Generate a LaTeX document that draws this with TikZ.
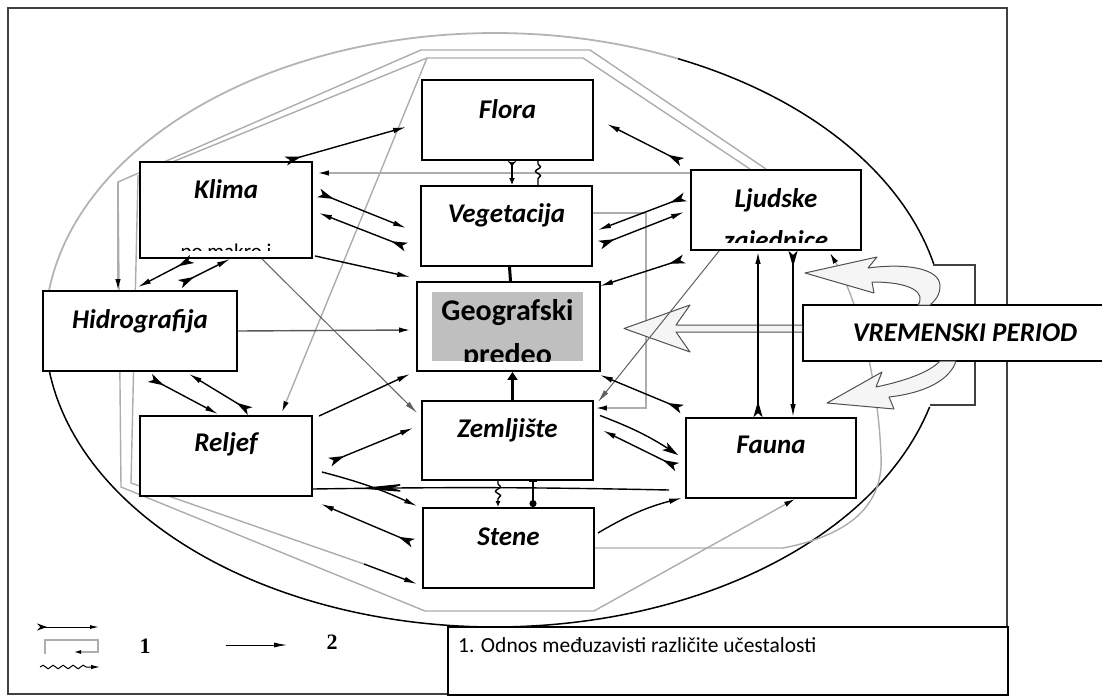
\documentclass[tikz,border=0pt]{standalone}
\usepackage{fontspec}
\setmainfont{Carlito}
\newfontfamily\lgserif{Liberation Serif}
\usetikzlibrary{arrows.meta,decorations.pathmorphing,decorations.markings,calc}
\pgfdeclarelayer{bg}
\pgfsetlayers{bg,main}
\definecolor{lgray}{HTML}{ADADAD}
\definecolor{egray}{HTML}{B4B4B4}
\definecolor{dgray}{HTML}{505050}
\tikzset{
  box/.style={draw=black, line width=1.9pt, fill=white, inner sep=0pt,
    font=\fontsize{27}{32}\selectfont\bfseries\itshape},
  conn/.style={draw=black, line width=1.4pt},
  glin/.style={draw=lgray, line width=1.4pt},
  thinl/.style={draw=gray!75!black, line width=1pt},
  midl/.style={draw=gray!70!black, line width=1.4pt},
  ar/.style={arrows={-Latex[length=13pt,width=5.5pt]}},
  gar/.style={arrows={-Latex[length=11pt,width=5.5pt,color=black]}},
  hv/.style={arrows={Stealth[length=16pt,width=9pt,inset=4pt,reversed]-Latex[length=13pt,width=5.5pt]}},
  hvend/.style={arrows={-Stealth[length=16pt,width=9pt,inset=4pt]}},
  wavy/.style={decorate, decoration={snake, amplitude=2.5pt, segment length=9pt, pre length=3pt, post length=5pt}},
  hollow/.style={draw=dgray, fill=gray!8, line width=1pt, line join=round},
}
\begin{document}
\begin{tikzpicture}[x=1pt,y=-1pt]
\useasboundingbox (0,0) rectangle (1102,696);

% ---------- boxes ----------
\node[box, minimum width=171pt, text height=38pt, text depth=42pt] (flora) at (507.5,120) {Flora};
\node[box, minimum width=171pt, text height=36pt, text depth=44pt] (veg) at (506.5,226) {Vegetacija};
\node[box, minimum width=183pt, minimum height=89pt] (geo) at (508.5,326.5) {};
\node[fill=gray!50, inner sep=0pt, minimum width=151pt, minimum height=69pt] (geoin) at (507.5,326.5) {};
\node[box, minimum width=171pt, text height=36pt, text depth=43pt] (zem) at (507.5,440.5) {Zemljište};
\node[box, minimum width=171pt, text height=37pt, text depth=43pt] (stene) at (508.5,548) {Stene};
\node[box, minimum width=172pt, text height=36pt, text depth=60pt] (klima) at (226,210) {Klima};
\node[box, minimum width=194pt, text height=37pt, text depth=43pt] (hidr) at (140,331) {Hidrografija};
\node[box, minimum width=172pt, text height=35pt, text depth=45pt] (reljef) at (226,456) {Reljef};
\node[box, minimum width=170pt, text height=35pt, text depth=45pt] (fauna) at (771,458) {Fauna};
\node[box, minimum width=170pt, text height=37pt, text depth=43pt] (lj) at (776,210) {Ljudske};
\node[box, minimum width=324pt, text height=36pt, text depth=20pt] (vp) at (965,333) {VREMENSKI PERIOD};

% clipped texts
\begin{scope}
  \clip (432,292) rectangle (583,361);
  \node[font=\fontsize{30}{36}\selectfont\bfseries, anchor=base, inner sep=0pt] (geot1) at (507.5,320) {Geografski};
  \node[font=\fontsize{30}{36}\selectfont\bfseries, anchor=base, inner sep=0pt] (geot2) at (507.5,364) {predeo};
\end{scope}
\begin{scope}
  \clip (692,171) rectangle (860,242);
  \node[font=\fontsize{27}{32}\selectfont\bfseries\itshape, anchor=base, inner sep=0pt] (ljt2) at (776,249) {zajednice};
\end{scope}
\begin{scope}
  \clip (141,163) rectangle (311,250);
  \node[font=\fontsize{21}{25}\selectfont, anchor=base, inner sep=0pt] (klimat2) at (226,258) {po makro i};
\end{scope}

% bottom text box
\node[draw=black, line width=1.5pt, fill=white, minimum width=560pt, minimum height=68pt, inner sep=0pt, anchor=north west] (txt) at (447,626) {};
\node[anchor=base west, inner sep=0pt, font=\fontsize{21.5}{26}\selectfont] (txtl) at (458,652) {1. Odnos međuzavisti različite učestalosti};

% ---------- time arrows ----------
\draw[hollow] ([yshift=8]vp.west) -- (676,325) -- (690,305) -- (624,328.5) -- (690,352) -- (676,332) -- ([yshift=1]vp.west);
\draw[hollow] (805,273) -- (877,257) -- (868,268) .. controls (905,263) and (940,268) .. (940,286)
   .. controls (940,295) and (935,301) .. (930,305) -- (918,305)
   .. controls (926,293) and (912,282) .. (872,282) -- (874,293) -- cycle;
\draw[hollow] (827,403) -- (882,372) -- (876,387) .. controls (905,381) and (930,372) .. (940,361)
   -- (956,361) .. controls (950,380) and (925,393) .. (889,397) -- (894,409) -- cycle;

% ---------- connectors ----------
% Klima
\draw[conn, hv] ([xshift=-27]klima.north east) -- ([xshift=-15,yshift=-7]flora.west);
\draw[conn, hv] ([xshift=6,yshift=17]klima.east) -- ([xshift=-14,yshift=-2]veg.west);
\draw[conn, hv] ([xshift=-14,yshift=-21]veg.west) -- ([xshift=6,yshift=-3]klima.east);
\draw[conn, ar] ([xshift=2,yshift=3]klima.south east) -- ([xshift=-6,yshift=4]geo.north west);
\draw[conn, hv] ([xshift=-34]klima.south) -- ([xshift=-2,yshift=3]hidr.north);
\draw[conn, hv] ([xshift=40,yshift=6]hidr.north) -- ([xshift=4]klima.south);
\draw[thinl, ar] ([xshift=36]klima.south) -- ([xshift=-4,yshift=27.5]zem.west);
% Hidrografija
\draw[midl, gar] (hidr.east) -- ([xshift=-6,yshift=-3.5]geo.west);
\draw[conn, hv] ([xshift=10,yshift=-6]hidr.south) -- ([xshift=-8,yshift=1]reljef.north);
\draw[conn, hv] ([xshift=24,yshift=4]reljef.north) -- ([xshift=49,yshift=-2]hidr.south);
% Reljef
\draw[conn, ar] ([xshift=6,yshift=-1]reljef.north east) -- ([xshift=-6,yshift=-2]geo.south west);
\draw[conn, hv] ([xshift=17,yshift=-6]reljef.east) -- ([xshift=-8,yshift=12.5]zem.west);
\draw[conn, ar] ([xshift=9,yshift=-16]reljef.east) to[bend left=5] ([xshift=-5,yshift=1]stene.north west);
\draw[conn, hv] ([xshift=-9,yshift=5]stene.west) -- ([xshift=8,yshift=-7]reljef.south east);
\draw[conn, postaction={decorate}, decoration={markings, mark=at position 0.874 with {\arrow{Stealth[length=50pt,width=9pt]}}}]
   ([xshift=-16,yshift=-32]fauna.west) to[bend right=1] ([yshift=-33]reljef.east);
% vertical links
\draw[conn, line width=3pt, arrows={-Triangle[length=8pt,width=10pt]}] ([xshift=5]zem.north) -- ([xshift=4]geo.south);
\draw[conn, line width=3pt] ([xshift=3]veg.south) -- ([xshift=2]geo.north);
\draw[conn, line width=1.8pt, arrows={Stealth[length=5pt,width=9pt,reversed]-Latex[length=7pt,width=6pt]}] ([xshift=4.5]flora.south) -- ([xshift=5.5]veg.north);
\draw[conn, wavy] ([xshift=30.5]flora.south) -- ([xshift=31.5]veg.north);
\draw[conn, wavy, arrows={-Latex[length=6pt,width=5pt]}] ([xshift=-9.5]zem.south) -- ([xshift=-10.5]stene.north);
\draw[conn, line width=1.5pt, arrows={Bar[width=8pt]-Circle[length=7pt]}] ([xshift=25.5]zem.south) -- ([xshift=24.5]stene.north);
% Ljudske zajednice
\draw[conn, hv] ([xshift=-8,yshift=7]lj.north west) -- ([xshift=13,yshift=-4]flora.east);
\draw[conn, hv] ([xshift=-5,yshift=13]lj.west) -- ([xshift=5,yshift=-4]veg.east);
\draw[conn, hv] ([xshift=7,yshift=-19]veg.east) -- ([xshift=-6,yshift=-2]lj.west);
\draw[conn, hv] ([xshift=-6,yshift=-8]lj.south west) -- ([xshift=-1,yshift=-5]geo.north east);
\draw[thinl, ar] ([xshift=29]lj.south west) -- ([xshift=4,yshift=-2]zem.north east);
\draw[conn, line width=1.8pt, hv] ([xshift=-13]fauna.north) -- ([xshift=-18]lj.south);
\draw[conn, line width=1.5pt, hv] ([xshift=17]lj.south) -- ([xshift=22]fauna.north);
% Fauna
\draw[conn, hv] ([xshift=-3,yshift=8]fauna.north west) -- ([xshift=-1,yshift=-3]geo.south east);
\draw[conn, hvend] ([xshift=6,yshift=25]zem.east) to[bend left=6] ([xshift=-7,yshift=3]fauna.west);
\draw[conn, hv] ([xshift=-8,yshift=-9]fauna.west) -- ([xshift=9,yshift=10]zem.east);
\draw[conn, ar] ([xshift=3,yshift=15]stene.east) to[bend left=8] ([xshift=-3,yshift=1]fauna.south west);

% ---------- legend ----------
\coordinate (lg1a) at (37,627);
\coordinate (lg1b) at (99,627);
\draw[conn, line width=1pt, arrows={Stealth[length=10pt,width=7pt,reversed]-Latex[length=9pt,width=4pt]}] (lg1a) -- (lg1b);
\coordinate (lg2a) at (45,654);
\coordinate (lg2b) at (74,652);
\draw[glin, line width=1.1pt, arrows={-Latex[length=7pt,width=4pt,color=black]}] (lg2a) -- (45,640) -- (98,640) -- (98,652) -- (lg2b);
\coordinate (lg3a) at (40,667);
\coordinate (lg3b) at (100,667);
\draw[conn, line width=1pt, decorate, decoration={snake, amplitude=1.8pt, segment length=10pt, post length=9pt}, arrows={-Latex[length=9pt,width=4.5pt]}] (lg3a) -- (lg3b);
\node[font=\lgserif\bfseries\fontsize{22}{26}\selectfont, inner sep=0pt] (lgn1) at (145,646) {1};
\coordinate (lg4a) at (226,645);
\coordinate (lg4b) at (287,645);
\draw[conn, line width=0.9pt, arrows={-Latex[length=13pt,width=5pt]}] (lg4a) -- (lg4b);
\node[font=\lgserif\bfseries\fontsize{22}{26}\selectfont, inner sep=0pt] (lgn2) at (332,642) {2};

% ---------- background ----------
\begin{pgfonlayer}{bg}
  \fill[white] (0,0) rectangle (1102,696);
  \draw[line width=1.3pt, black!75] (8,8) rectangle (1007,694);
  % ellipse
  \draw[egray, line width=1.8pt] plot[domain=178:294, samples=90] ({495+450*cos(\x)},{330+297*sin(\x)});
  \draw[black, line width=1.5pt] plot[domain=-66:-12.6, samples=40] ({495+450*cos(\x)},{330+297*sin(\x)});
  \draw[black, line width=1.5pt] plot[domain=15:178, samples=120] ({495+450*cos(\x)},{330+297*sin(\x)});
  \draw[black!75, line width=1.5pt] (933,265) -- (975,265) -- (975,405) -- (930,405);
  % gray double frame
  \coordinate (otl) at (421,50);
  \coordinate (otr) at (590,50);
  \coordinate (oleft) at (118,182);
  \coordinate (olb) at (121,487);
  \coordinate (obl) at (425,611);
  \coordinate (obr) at (594,611);
  \coordinate (itl) at (427,58);
  \coordinate (itr) at (583,58);
  \coordinate (ileft) at (138,176);
  \coordinate (ilb) at (131,483);
  \coordinate (ibk) at (364,564);
  \draw[glin] ([xshift=76]lj.north west) -- (otr) -- (otl) -- (oleft) -- (olb) -- (obl) -- (obr);
  \draw[glin, gar] (oleft) -- (hidr.north -| oleft);
  \draw[glin, gar] (obr) -- ([xshift=24]fauna.south);
  \draw[glin] ([xshift=60]lj.north west) -- (itr) -- (itl) -- (ileft) -- (ilb) -- (ibk);
  \draw[conn, ar] (ibk) -- ([xshift=-5,yshift=5]stene.south west);
  \draw[glin, gar] (itl) -- ([xshift=56,yshift=3]reljef.north);
  \draw[glin, gar] ([yshift=37]lj.west) -- ([xshift=5,yshift=37]klima.east);
  \draw[glin, gar] ([yshift=13]veg.east) -- ++(53,0) |- ([xshift=2,yshift=32.5]zem.east);
  \draw[glin, gar] (stene.east) -- (783,548) .. controls (850,535) and (884,505) .. (881,455)
     .. controls (878,380) and (858,300) .. ([xshift=-32,yshift=-2]lj.south east);
\end{pgfonlayer}
\end{tikzpicture}
\end{document}
